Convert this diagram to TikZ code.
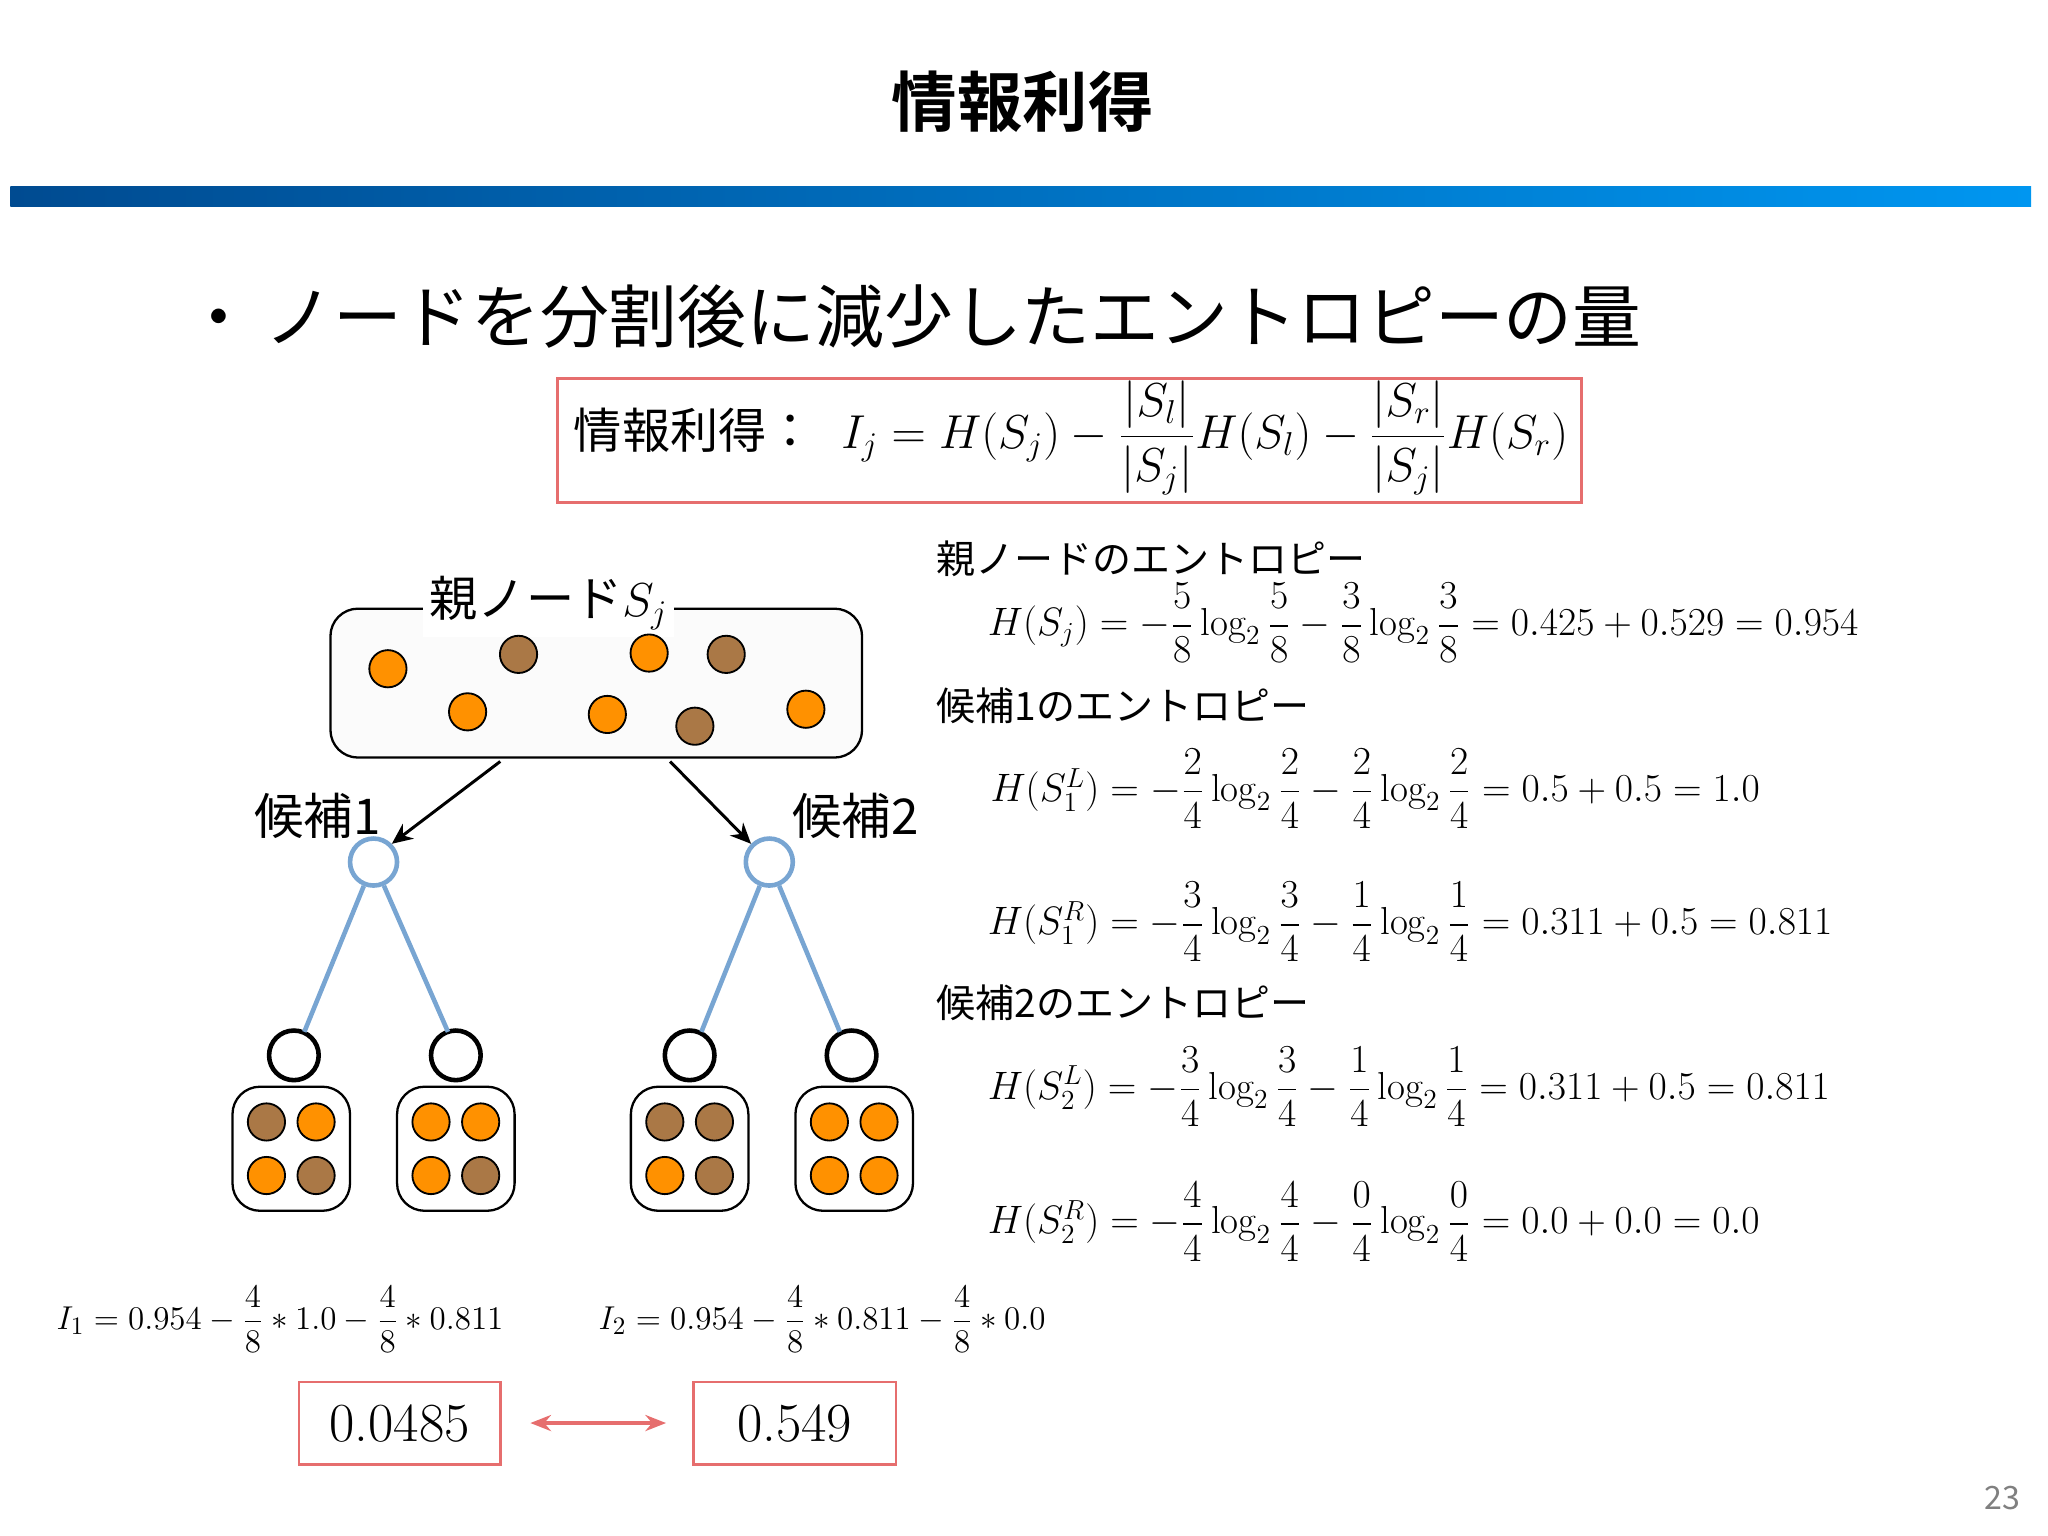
\documentclass[tikz,border=0pt]{standalone}
\usepackage{amsmath}
\usepackage{fontspec}
\newfontfamily\jp{Noto Sans CJK JP}
\newfontfamily\jpb{Noto Sans CJK JP Bold}
\usetikzlibrary{arrows.meta}
\definecolor{org}{RGB}{255,145,0}
\definecolor{brn}{RGB}{170,120,70}
\definecolor{redb}{RGB}{230,110,110}
\definecolor{lblue}{RGB}{120,165,210}
\definecolor{bd}{RGB}{0,75,145}
\definecolor{bl}{RGB}{0,150,240}
\newcommand{\fs}[1]{\fontsize{#1}{#1}\selectfont}
\begin{document}
\begin{tikzpicture}[x=0.02cm,y=-0.02cm,
  ob/.style={circle,draw=black,fill=org,minimum size=28.5*0.02cm,inner sep=0,line width=0.8pt},
  bb/.style={circle,draw=black,fill=brn,minimum size=28.5*0.02cm,inner sep=0,line width=0.8pt},
  leaf/.style={circle,draw=black,fill=white,minimum size=38*0.02cm,inner sep=0,line width=2pt},
  cand/.style={circle,draw=lblue,fill=white,minimum size=36*0.02cm,inner sep=0,line width=2pt},
  bx/.style={draw=black,rounded corners=12pt,line width=1pt,fill=white},
  blink/.style={draw=lblue,line width=2pt},
  arr/.style={-{Stealth[length=9pt,width=8pt]},line width=1.3pt},
  lab/.style={font=\jp\fs{17}},
  eq/.style={anchor=west,font=\fs{17},inner sep=0},
  red/.style={draw=redb,line width=1.2pt}]
\useasboundingbox (0,0) rectangle (1568,1176);
% title
\node[font=\jpb\fs{28.5}] (title) at (783,78) {情報利得};
\shade[left color=bd,right color=bl] (8,143) rectangle (1555,158);
\node[font=\jp\fs{30},anchor=west] (bul) at (135,242) {・\,ノードを分割後に減少したエントロピーの量};
% formula box
\draw[red] (427,290) rectangle (1211,385);
\node[font=\fs{20}] (ig) at (820,335) {{\jp\fs{21}情報利得：}\; $I_j = H(S_j) - \dfrac{|S_l|}{|S_j|}H(S_l) - \dfrac{|S_r|}{|S_j|}H(S_r)$};
% parent box
\draw[bx,fill=white!97!gray] (253,466) rectangle (660,580);
\node[font=\jp\fs{21},fill=white,inner sep=3pt] (plab) at (420,462) {親ノード$S_j$};
\node[ob] (p1) at (297,512) {}; \node[ob] (p2) at (358,545) {};
\node[ob] (p3) at (497,500) {}; \node[ob] (p4) at (465,547) {};
\node[ob] (p5) at (617,543) {};
\node[bb] (p6) at (397,501) {}; \node[bb] (p7) at (556,501) {};
\node[bb] (p8) at (532,556) {};
\coordinate (a1s) at (383,583); \coordinate (a2s) at (513,583);
% candidates
\node[cand] (c1) at (286,660) {};
\node[cand] (c2) at (589,660) {};
\draw[arr] (a1s) -- (c1.north east);
\draw[arr] (a2s) -- (c2.north west);
\node[font=\jp\fs{21.5}] (l1) at (243,625) {候補1};
\node[font=\jp\fs{21.5}] (l2) at (655,625) {候補2};
\node[leaf] (f1) at (225,808) {};
\node[leaf] (f2) at (349,808) {};
\node[leaf] (f3) at (528,808) {};
\node[leaf] (f4) at (652,808) {};
\draw[blink] (c1) -- (233,790); \draw[blink] (c1) -- (343,790);
\draw[blink] (c2) -- (537,790); \draw[blink] (c2) -- (643,790);
% leaf boxes
\foreach \cx/\a/\b/\c/\d [count=\i] in {223/bb/ob/ob/bb, 349/ob/ob/ob/bb, 528/bb/bb/ob/bb, 654/ob/ob/ob/ob}{
  \draw[bx] (\cx-45,832) rectangle (\cx+45,927);
  \node[\a] (b\i a) at (\cx-19,859) {};
  \node[\b] (b\i b) at (\cx+19,859) {};
  \node[\c] (b\i c) at (\cx-19,900) {};
  \node[\d] (b\i d) at (\cx+19,900) {};
}
% right equations
\node[lab,anchor=west] (t1) at (711,428) {親ノードのエントロピー};
\node[eq] (e1) at (756,477) {$H(S_j) = -\dfrac{5}{8}\log_2\dfrac{5}{8} - \dfrac{3}{8}\log_2\dfrac{3}{8} = 0.425 + 0.529 = 0.954$};
\node[lab,anchor=west] (t2) at (711,540) {候補1のエントロピー};
\node[eq] (e2) at (758,604) {$H(S_1^L) = -\dfrac{2}{4}\log_2\dfrac{2}{4} - \dfrac{2}{4}\log_2\dfrac{2}{4} = 0.5 + 0.5 = 1.0$};
\node[eq] (e3) at (756,706) {$H(S_1^R) = -\dfrac{3}{4}\log_2\dfrac{3}{4} - \dfrac{1}{4}\log_2\dfrac{1}{4} = 0.311 + 0.5 = 0.811$};
\node[lab,anchor=west] (t3) at (711,768) {候補2のエントロピー};
\node[eq] (e4) at (756,832) {$H(S_2^L) = -\dfrac{3}{4}\log_2\dfrac{3}{4} - \dfrac{1}{4}\log_2\dfrac{1}{4} = 0.311 + 0.5 = 0.811$};
\node[eq] (e5) at (756,935) {$H(S_2^R) = -\dfrac{4}{4}\log_2\dfrac{4}{4} - \dfrac{0}{4}\log_2\dfrac{0}{4} = 0.0 + 0.0 = 0.0$};
% bottom
\node[eq,font=\fs{15}] (i1) at (43,1010) {$I_1 = 0.954 - \dfrac{4}{8}*1.0 - \dfrac{4}{8}*0.811$};
\node[eq,font=\fs{15}] (i2) at (458,1010) {$I_2 = 0.954 - \dfrac{4}{8}*0.811 - \dfrac{4}{8}*0.0$};
\node[red,minimum width=154*0.02cm,minimum height=63*0.02cm,font=\fs{24}] (r1) at (306,1089.5) {0.0485};
\node[red,minimum width=155*0.02cm,minimum height=63*0.02cm,font=\fs{24}] (r2) at (608.5,1089.5) {0.549};
\draw[{Stealth[length=9pt,width=7pt]}-{Stealth[length=9pt,width=7pt]},draw=redb,line width=1.5pt] ([xshift=22*0.02cm]r1.east) -- ([xshift=-20*0.02cm]r2.west);
\node[font=\jp\fs{14},text=gray] (pg) at (1533,1147) {23};
\end{tikzpicture}
\end{document}
